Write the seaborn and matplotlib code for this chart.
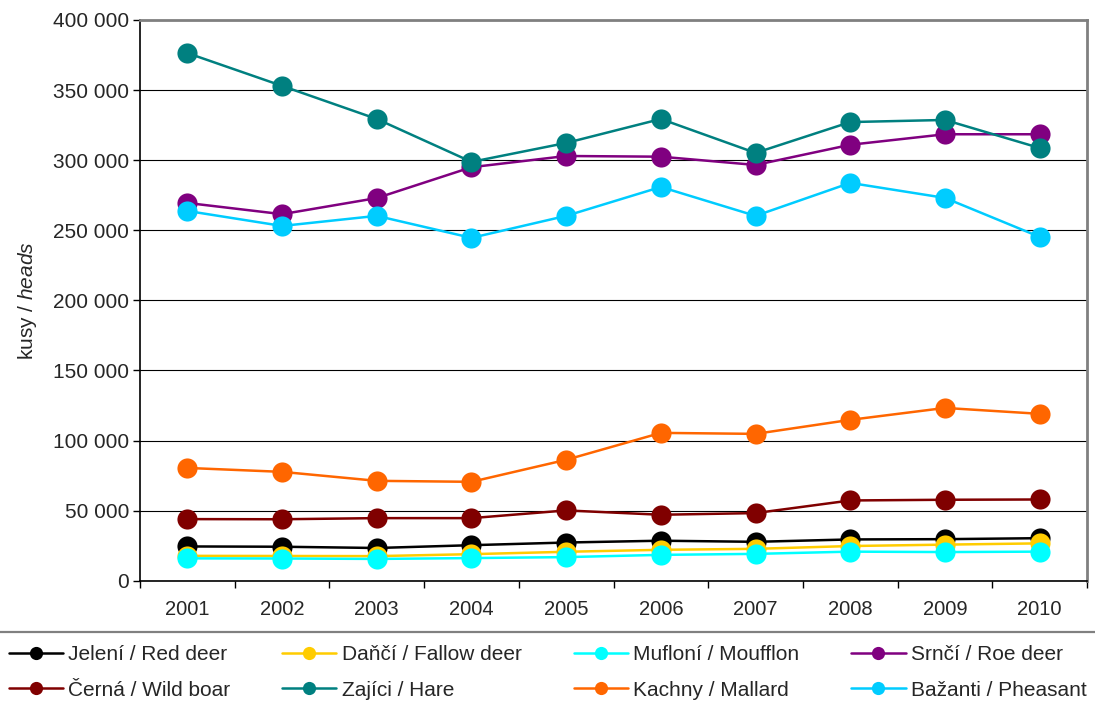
import numpy as np
import pandas as pd
import matplotlib
matplotlib.use("Agg")
import matplotlib.pyplot as plt
import seaborn as sns
from matplotlib.ticker import FuncFormatter, FixedLocator

# data
roky = ["2001", "2002", "2003", "2004", "2005", "2006", "2007", "2008", "2009", "2010"]

jeleni = [24500, 24300, 23400, 25400, 27300, 28600, 27800, 29500, 29700, 30400]
danci = [17800, 17700, 17600, 19000, 20700, 22100, 22800, 24800, 25800, 26700]
mufloni = [16000, 15900, 15600, 16200, 16900, 18500, 19200, 20800, 20500, 20800]
srnci = [269500, 261500, 273000, 295000, 303000, 302500, 296600, 311000, 318500, 318500]
cerna = [44000, 43900, 44700, 44700, 50200, 47100, 48300, 57300, 57800, 58000]
zajici = [376400, 353000, 329400, 298800, 312300, 329400, 305200, 327200, 328700, 308700]
kachny = [80500, 77700, 71300, 70600, 86300, 105500, 104800, 114800, 123300, 119100]
bazanti = [263800, 253100, 260300, 244600, 260300, 280900, 260300, 283800, 273100, 245300]

nazvy = ["Jelení / Red deer", "Daňčí / Fallow deer", "Mufloní / Moufflon", "Srnčí / Roe deer",
         "Černá / Wild boar", "Zajíci / Hare", "Kachny / Mallard", "Bažanti / Pheasant"]
barvy = ["#000000", "#FFCC00", "#00FFFF", "#800080", "#800000", "#008080", "#FF6600", "#00CCFF"]
serie = [jeleni, danci, mufloni, srnci, cerna, zajici, kachny, bazanti]

sns.set_style("white")
plt.rcParams['font.family'] = ['Liberation Sans', 'DejaVu Sans']
plt.rcParams['mathtext.fontset'] = 'custom'
plt.rcParams['mathtext.rm'] = 'Liberation Sans'
plt.rcParams['mathtext.it'] = 'Liberation Sans:italic'

fig = plt.figure(figsize=(10.95, 7.04), dpi=100)
ax = fig.add_axes([0.1279, 0.175, 0.8648, 0.7966])

x = np.arange(len(roky))
for nazev, barva, hodnoty in zip(nazvy, barvy, serie):
    sns.lineplot(x=x, y=hodnoty, ax=ax, color=barva, marker="o", markersize=14.5,
                 markeredgewidth=0, linewidth=1.8, label=nazev)

ax.set_xlim(-0.5, 9.5)
ax.set_ylim(0, 400000)
ax.set_yticks(np.arange(0, 400001, 50000))
ax.yaxis.set_major_formatter(FuncFormatter(lambda v, p: f"{int(v):,}".replace(",", " ")))
ax.set_xticks(x)
ax.set_xticklabels(roky)
ax.xaxis.set_minor_locator(FixedLocator(np.arange(-0.5, 10, 1)))
ax.tick_params(axis="x", which="major", length=0, pad=14, labelsize=14.5)
ax.tick_params(axis="x", which="minor", length=5, width=1, color="black", direction="out", bottom=True)
ax.tick_params(axis="y", length=5, width=1, color="black", direction="out", left=True, labelsize=15, pad=3)

ax.grid(axis="y", color="black", linewidth=0.8)
ax.set_axisbelow(True)
for s in ["left", "bottom"]:
    ax.spines[s].set_color("black")
    ax.spines[s].set_linewidth(1.2)
for s in ["top", "right"]:
    ax.spines[s].set_color("#808080")
    ax.spines[s].set_linewidth(2)

ax.set_xlabel("")
ax.set_ylabel(r"kusy / $\mathit{heads}$", fontsize=15, labelpad=10)

h, l = ax.get_legend_handles_labels()
ax.get_legend().remove()
poradi = [0, 4, 1, 5, 2, 6, 3, 7]
leg = fig.legend([h[i] for i in poradi], [l[i] for i in poradi], ncol=4, loc="upper left",
                 bbox_to_anchor=(-0.004, -0.05, 1.008, 0.152), mode="expand",
                 fontsize=15, frameon=True, fancybox=False, edgecolor="#606060",
                 handlelength=2.6, handletextpad=0.25, borderaxespad=0, borderpad=0.62,
                 labelspacing=0.8)
leg.get_frame().set_linewidth(1.6)
for lh in leg.legend_handles:
    lh.set_markersize(9.5)

fig.savefig("out.png", dpi=100)
